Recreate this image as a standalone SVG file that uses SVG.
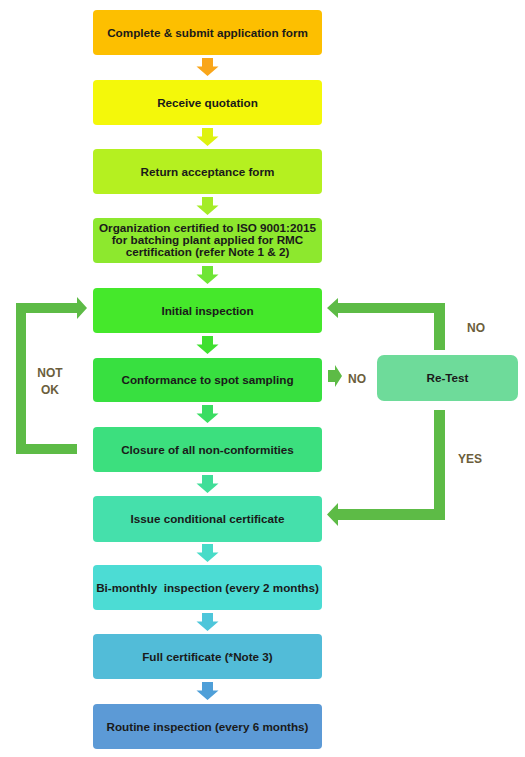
<svg xmlns="http://www.w3.org/2000/svg" width="525" height="757" viewBox="0 0 525 757">
<style>
.box{stroke:none}
.t{font-family:"Liberation Sans",Arial,sans-serif;font-weight:bold;font-size:11.7px;fill:#1a1a1a;text-anchor:middle}
.lbl{font-family:"Liberation Sans",Arial,sans-serif;font-weight:bold;font-size:12px;fill:#6b5e3c;text-anchor:middle}
.conn{fill:#5dbb46}
</style>
<defs>
<path id="dn" d="M-5.5,0 H5.5 V8.5 H11 L0,18 L-11,8.5 H-5.5 Z"/>
</defs>
<rect width="525" height="757" fill="#ffffff"/>

<g id="n1"><rect class="box" x="93" y="10" width="229" height="45" rx="4" fill="#fdbf00"/><text class="t" x="207.5" y="36.5">Complete &amp; submit application form</text></g>
<g id="n2"><rect class="box" x="93" y="80" width="229" height="45" rx="4" fill="#f4f80a"/><text class="t" x="207.5" y="106.5">Receive quotation</text></g>
<g id="n3"><rect class="box" x="93" y="149" width="229" height="45" rx="4" fill="#b5f020"/><text class="t" x="207.5" y="175.5">Return acceptance form</text></g>
<g id="n4"><rect class="box" x="93" y="218" width="229" height="45" rx="4" fill="#8de82e"/><text class="t" x="207.5" y="232">Organization certified to ISO 9001:2015</text><text class="t" x="207.5" y="244">for batching plant applied for RMC</text><text class="t" x="207.5" y="256">certification (refer Note 1 &amp; 2)</text></g>
<g id="n5"><rect class="box" x="93" y="288" width="229" height="45" rx="4" fill="#45e82b"/><text class="t" x="207.5" y="314.5">Initial inspection</text></g>
<g id="n6"><rect class="box" x="93" y="358" width="229" height="44" rx="4" fill="#38e040"/><text class="t" x="207.5" y="384">Conformance to spot sampling</text></g>
<g id="n7"><rect class="box" x="93" y="427" width="229" height="45" rx="4" fill="#3cdf7e"/><text class="t" x="207.5" y="453.5">Closure of all non-conformities</text></g>
<g id="n8"><rect class="box" x="93" y="496" width="229" height="46" rx="4" fill="#45e0ab"/><text class="t" x="207.5" y="523">Issue conditional certificate</text></g>
<g id="n9"><rect class="box" x="93" y="565" width="229" height="45" rx="4" fill="#4cdcd4"/><text class="t" x="207.5" y="591.5" xml:space="preserve">Bi-monthly  inspection (every 2 months)</text></g>
<g id="n10"><rect class="box" x="93" y="634" width="229" height="45" rx="4" fill="#52bcd8"/><text class="t" x="207.5" y="660.5">Full certificate (*Note 3)</text></g>
<g id="n11"><rect class="box" x="93" y="704" width="229" height="45" rx="4" fill="#5c9ad6"/><text class="t" x="207.5" y="730.5">Routine inspection (every 6 months)</text></g>
<g id="retest"><rect class="box" x="377" y="355" width="141" height="46" rx="7" fill="#6edb9a"/><text class="t" x="447.5" y="382">Re-Test</text></g>

<g id="connectors">
<use href="#dn" x="207.5" y="58" fill="#f9a61a"/>
<use href="#dn" x="207.5" y="128" fill="#def20e"/>
<use href="#dn" x="207.5" y="197" fill="#a4ec26"/>
<use href="#dn" x="207.5" y="266" fill="#6ee535"/>
<use href="#dn" x="207.5" y="336" fill="#3fe02f"/>
<use href="#dn" x="207.5" y="405" fill="#3add62"/>
<use href="#dn" x="207.5" y="475" fill="#40de98"/>
<use href="#dn" x="207.5" y="544" fill="#48dcc8"/>
<use href="#dn" x="207.5" y="613" fill="#4ec6da"/>
<use href="#dn" x="207.5" y="682" fill="#4f9fd8"/>
<path class="conn" d="M77,454 H16 V303 H77 V297 L87,308 L77,319 V313 H26 V444 H77 Z"/>
<path class="conn" d="M434,350 V313 H338 V318 L327,308 L338,298 V303 H445 V350 Z"/>
<path class="conn" d="M434,410 V509 H338 V503 L327,514.5 L338,526 V520 H445 V410 Z"/>
<path class="conn" d="M328,370 H335 V365 L342,376 L335,387 V382 H328 Z"/>
<text class="lbl" x="50" y="377">NOT</text>
<text class="lbl" x="50" y="394">OK</text>
<text class="lbl" x="476" y="332">NO</text>
<text class="lbl" x="357" y="383">NO</text>
<text class="lbl" x="470" y="463">YES</text>
</g>
</svg>
